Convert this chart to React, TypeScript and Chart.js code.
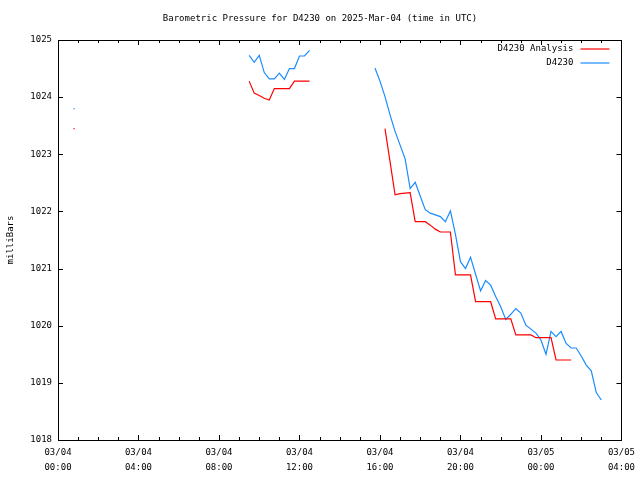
import { useEffect, useRef } from "react";
import { Chart, registerables } from "chart.js";

Chart.register(...registerables);

// ---- data (hours since 03/04 00:00 UTC) ----
const TITLE = "Barometric Pressure for D4230 on 2025-Mar-04 (time in UTC)";
const Y_TITLE = "milliBars";
const SERIES_RED_NAME = "D4230 Analysis";
const SERIES_BLUE_NAME = "D4230";

const X_TICK_HOURS = [0, 4, 8, 12, 16, 20, 24, 28];
const X_TICK_LABELS = [
  ["03/04", "00:00"],
  ["03/04", "04:00"],
  ["03/04", "08:00"],
  ["03/04", "12:00"],
  ["03/04", "16:00"],
  ["03/04", "20:00"],
  ["03/05", "00:00"],
  ["03/05", "04:00"],
];
const Y_TICKS = [1018, 1019, 1020, 1021, 1022, 1023, 1024, 1025];

const blueHours = [
  0.8, 5,
  9.5, 9.75, 10.0, 10.25, 10.5, 10.75, 11.0, 11.25, 11.5, 11.75, 12.0, 12.25, 12.5,
  14,
  15.75, 16.0, 16.25, 16.5, 16.75, 17.0, 17.25, 17.5, 17.75, 18.0, 18.25, 18.5, 18.75,
  19.0, 19.25, 19.5, 19.75, 20.0, 20.25, 20.5, 20.75, 21.0, 21.25, 21.5, 21.75, 22.0,
  22.25, 22.5, 22.75, 23.0, 23.25, 23.5, 23.75, 24.0, 24.25, 24.5, 24.75, 25.0, 25.25,
  25.5, 25.75, 26.0, 26.25, 26.5, 26.75, 27.0,
];
const blueValues = [
  1023.8, null,
  1024.73, 1024.61, 1024.73, 1024.43, 1024.32, 1024.32, 1024.42, 1024.31, 1024.5, 1024.5, 1024.72, 1024.72, 1024.82,
  null,
  1024.51, 1024.28, 1024.01, 1023.69, 1023.4, 1023.16, 1022.92, 1022.4, 1022.51, 1022.27, 1022.03, 1021.97, 1021.94,
  1021.91, 1021.82, 1022.01, 1021.6, 1021.12, 1021.0, 1021.2, 1020.9, 1020.61, 1020.79, 1020.71, 1020.51, 1020.33,
  1020.11, 1020.2, 1020.3, 1020.22, 1020.01, 1019.94, 1019.87, 1019.75, 1019.5, 1019.9, 1019.81, 1019.9, 1019.69,
  1019.61, 1019.61, 1019.47, 1019.31, 1019.21, 1018.83, 1018.7,
];

const redHours = [
  0.8, 5,
  9.5, 9.75, 10.0, 10.25, 10.5, 10.75, 11.0, 11.25, 11.5, 11.75, 12.0, 12.25, 12.5,
  14,
  16.25, 16.5, 16.75, 17.0, 17.25, 17.5, 17.75, 18.0, 18.25, 18.5, 18.75, 19.0, 19.25,
  19.5, 19.75, 20.0, 20.25, 20.5, 20.75, 21.0, 21.25, 21.5, 21.75, 22.0, 22.25, 22.5,
  22.75, 23.0, 23.25, 23.5, 23.75, 24.0, 24.25, 24.5, 24.75, 25.0, 25.25, 25.5,
];
const redValues = [
  1023.45, null,
  1024.28, 1024.07, 1024.03, 1023.98, 1023.95, 1024.15, 1024.15, 1024.15, 1024.15, 1024.28, 1024.28, 1024.28, 1024.28,
  null,
  1023.45, 1022.87, 1022.29, 1022.31, 1022.32, 1022.33, 1021.82, 1021.82, 1021.82, 1021.76, 1021.69, 1021.64, 1021.64,
  1021.64, 1020.89, 1020.89, 1020.89, 1020.89, 1020.42, 1020.42, 1020.42, 1020.42, 1020.12, 1020.12, 1020.12, 1020.12,
  1019.84, 1019.84, 1019.84, 1019.84, 1019.79, 1019.79, 1019.79, 1019.79, 1019.4, 1019.4, 1019.4, 1019.4,
];

const RED = "#ff0000";
const BLUE = "#1a8cff";
const FONT = '"DejaVu Sans Mono", "Liberation Mono", monospace';
const FONT_SIZE = 9;

function toPoints(hours: number[], values: (number | null)[]) {
  return hours.map((h, i) => ({ x: h, y: values[i] }));
}

function isolatedRadius(ctx: any) {
  const d = ctx.dataset.data as { x: number; y: number | null }[];
  const i = ctx.dataIndex;
  const cur = d[i];
  if (!cur || cur.y == null) return 0;
  const prev = d[i - 1];
  const next = d[i + 1];
  const noPrev = !prev || prev.y == null;
  const noNext = !next || next.y == null;
  return noPrev && noNext ? 0.8 : 0;
}

const decorPlugin = {
  id: "gnuplotDecor",
  afterDraw(chart: any) {
    const { ctx, chartArea } = chart;
    const { left, right, top, bottom } = chartArea;
    const xs = chart.scales.x;
    const ys = chart.scales.y;
    ctx.save();
    ctx.strokeStyle = "#000";
    ctx.lineWidth = 1;
    // border
    ctx.strokeRect(Math.round(left) + 0.5, Math.round(top) + 0.5, Math.round(right - left), Math.round(bottom - top));
    // x ticks (hourly minor, 4-hourly major), inward on bottom and top
    ctx.beginPath();
    for (let h = 0; h <= 28; h++) {
      const len = h % 4 === 0 ? 5 : 3;
      const px = Math.round(xs.getPixelForValue(h)) + 0.5;
      ctx.moveTo(px, bottom);
      ctx.lineTo(px, bottom - len);
      ctx.moveTo(px, top);
      ctx.lineTo(px, top + len);
    }
    // y ticks inward on left and right
    for (const v of Y_TICKS) {
      const py = Math.round(ys.getPixelForValue(v)) + 0.5;
      ctx.moveTo(left, py);
      ctx.lineTo(left + 5, py);
      ctx.moveTo(right, py);
      ctx.lineTo(right - 5, py);
    }
    ctx.stroke();

    ctx.fillStyle = "#000";
    ctx.font = `${FONT_SIZE}px ${FONT}`;
    // title (centred on the canvas)
    ctx.textAlign = "center";
    ctx.textBaseline = "middle";
    ctx.fillText(TITLE, chart.width / 2, 19);
    // y axis title
    ctx.save();
    ctx.translate(11, (top + bottom) / 2);
    ctx.rotate(-Math.PI / 2);
    ctx.fillText(Y_TITLE, 0, 0);
    ctx.restore();
    // legend
    ctx.textAlign = "right";
    const legend = [
      { name: SERIES_RED_NAME, color: RED, y: 49 },
      { name: SERIES_BLUE_NAME, color: BLUE, y: 63 },
    ];
    for (const item of legend) {
      ctx.fillStyle = "#000";
      ctx.fillText(item.name, right - 48, item.y);
      ctx.strokeStyle = item.color;
      ctx.lineWidth = 1.2;
      ctx.beginPath();
      ctx.moveTo(right - 41, item.y);
      ctx.lineTo(right - 12, item.y);
      ctx.stroke();
    }
    ctx.restore();
  },
};

export default function App() {
  const ref = useRef<HTMLCanvasElement>(null);
  useEffect(() => {
    document.body.style.margin = "0";
    const canvas = ref.current!;
    const chart = new Chart(canvas, {
      type: "line",
      data: {
        datasets: [
          {
            label: SERIES_RED_NAME,
            data: toPoints(redHours, redValues) as any,
            borderColor: RED,
            backgroundColor: RED,
            borderWidth: 1.2,
            pointRadius: isolatedRadius as any,
            pointStyle: "rect",
            pointBorderWidth: 0,
            spanGaps: false,
            tension: 0,
          },
          {
            label: SERIES_BLUE_NAME,
            data: toPoints(blueHours, blueValues) as any,
            borderColor: BLUE,
            backgroundColor: BLUE,
            borderWidth: 1.2,
            pointRadius: isolatedRadius as any,
            pointStyle: "rect",
            pointBorderWidth: 0,
            spanGaps: false,
            tension: 0,
          },
        ],
      },
      options: {
        responsive: false,
        animation: false,
        devicePixelRatio: 1,
        layout: { padding: { top: 40, right: 18, left: 0, bottom: 0 } },
        plugins: {
          legend: { display: false },
          tooltip: { enabled: false },
          title: { display: false },
        },
        scales: {
          x: {
            type: "linear",
            min: 0,
            max: 28,
            afterBuildTicks: (s: any) => {
              s.ticks = X_TICK_HOURS.map((v) => ({ value: v }));
            },
            ticks: {
              autoSkip: false,
              maxRotation: 0,
              minRotation: 0,
              padding: 5,
              color: "#000",
              font: { family: FONT, size: FONT_SIZE, lineHeight: 15 / 9 },
              callback: (v: any) => {
                const i = X_TICK_HOURS.indexOf(Number(v));
                return i >= 0 ? X_TICK_LABELS[i] : "";
              },
            },
            grid: { display: false, drawTicks: false },
            border: { display: false },
            afterFit: (s: any) => {
              s.height = 40;
            },
          },
          y: {
            min: 1018,
            max: 1025,
            afterBuildTicks: (s: any) => {
              s.ticks = Y_TICKS.map((v) => ({ value: v }));
            },
            ticks: {
              padding: 6,
              color: "#000",
              font: { family: FONT, size: FONT_SIZE },
              callback: (v: any) => String(v),
            },
            grid: { display: false, drawTicks: false },
            border: { display: false },
            afterFit: (s: any) => {
              s.width = 58;
            },
          },
        },
      },
      plugins: [decorPlugin],
    });
    return () => chart.destroy();
  }, []);
  return <canvas ref={ref} width={640} height={480} style={{ display: "block" }} />;
}
